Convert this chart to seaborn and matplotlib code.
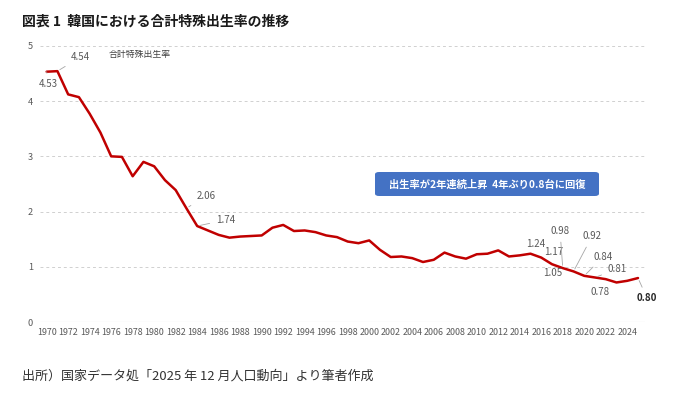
import matplotlib
matplotlib.use("Agg")
import matplotlib.pyplot as plt
from matplotlib.patches import FancyBboxPatch
import seaborn as sns
import pandas as pd

# ---- data ----
years = list(range(1970, 2026))
tfr = [4.53, 4.54, 4.12, 4.07, 3.77, 3.43, 3.00, 2.99, 2.64, 2.90,
       2.82, 2.57, 2.39, 2.06, 1.74, 1.66, 1.58, 1.53, 1.55, 1.56,
       1.57, 1.71, 1.76, 1.65, 1.66, 1.63, 1.57, 1.54, 1.46, 1.43,
       1.48, 1.31, 1.18, 1.19, 1.16, 1.09, 1.13, 1.26, 1.19, 1.15,
       1.23, 1.24, 1.30, 1.19, 1.21, 1.24, 1.17, 1.05, 0.98, 0.92,
       0.84, 0.81, 0.78, 0.72, 0.75, 0.80]
xtick_years = list(range(1970, 2025, 2))
yticks = [0, 1, 2, 3, 4, 5]
series_name = "合計特殊出生率"
title = "図表 1  韓国における合計特殊出生率の推移"
source = "出所）国家データ処「2025 年 12 月人口動向」より筆者作成"
callout = "出生率が2年連続上昇  4年ぶり0.8台に回復"

# labelled points: year, label-offset in px (dx, dy up), leader line?
labelled = [
    (1970, (2, -12.5), True),
    (1971, (23, 14), True),
    (1983, (19.5, 12.7), True),
    (1984, (28, 6), True),
    (2015, (5.5, 9.7), False),
    (2016, (12, 5.6), False),
    (2017, (1, -9), False),
    (2018, (-2.7, 37), True),
    (2019, (18.5, 35), True),
    (2020, (19, 19), True),
    (2021, (22, 8.5), True),
    (2022, (-5.7, -13), False),
    (2025, (9, -20), True),
]

df = pd.DataFrame({"year": years, "tfr": tfr})

sns.set_theme(style="white")
plt.rcParams["font.family"] = ["Noto Sans CJK JP", "DejaVu Sans"]

W, H = 680, 399
fig = plt.figure(figsize=(W / 100, H / 100), dpi=100)
ax = fig.add_axes([40 / W, 1 - 322.3 / H, 605 / W, (322.3 - 45.7) / H])

line_color = "#C00000"
sns.lineplot(data=df, x="year", y="tfr", ax=ax, color=line_color,
             linewidth=1.8, legend=False)

ax.set_xlim(1969.38, 2025.65)
ax.set_ylim(0, 5)
ax.set_xticks(xtick_years)
ax.set_xticklabels([str(y) for y in xtick_years])
ax.set_yticks(yticks)
ax.set_yticklabels([str(v) for v in yticks])
ax.tick_params(axis="x", labelsize=6.4, colors="#595959", length=0, pad=4)
ax.tick_params(axis="y", labelsize=6.6, colors="#595959", length=0, pad=5)
ax.set_xlabel("")
ax.set_ylabel("")
for s in ax.spines.values():
    s.set_visible(False)
for v in yticks[1:]:
    ax.axhline(v, color="#D0D0D0", linewidth=0.7, linestyle=(0, (3, 3)), zorder=0)
ax.axhline(0, color="#D9D9D9", linewidth=0.8, zorder=0)

# series name (legend-like label)
fig.text(109 / W, 1 - 55 / H, series_name, fontsize=6.4, color="#404040",
         va="center", ha="left")

# data labels
lookup = dict(zip(years, tfr))
for yr, (dx, dy), leader in labelled:
    val = lookup[yr]
    bold = yr == 2025
    kw = dict(arrowprops=dict(arrowstyle="-", color="#A6A6A6", lw=0.6,
                              shrinkA=2, shrinkB=2)) if leader else {}
    ax.annotate(f"{val:.2f}", xy=(yr, val), xycoords="data",
                xytext=(dx * 0.72, dy * 0.72), textcoords="offset points",
                ha="center", va="center", fontsize=7,
                color="#262626" if bold else "#595959",
                fontweight="bold" if bold else "normal", **kw)

# callout box
box = FancyBboxPatch((375 / W, 1 - 196 / H), (599 - 375) / W, 24 / H,
                     boxstyle="round,pad=0,rounding_size=0.006",
                     transform=fig.transFigure, facecolor="#4472C4",
                     edgecolor="none")
fig.patches.append(box)
fig.text(487 / W, 1 - 184.5 / H, callout, fontsize=7.4, color="white",
         fontweight="bold", ha="center", va="center")

# title and source
fig.text(22 / W, 1 - 22 / H, title, fontsize=10, fontweight="bold",
         color="#1a1a1a", ha="left", va="center")
fig.text(22 / W, 1 - 376 / H, source, fontsize=9.4, color="#333333",
         ha="left", va="center")

fig.savefig("out.png", dpi=100, facecolor="white")
